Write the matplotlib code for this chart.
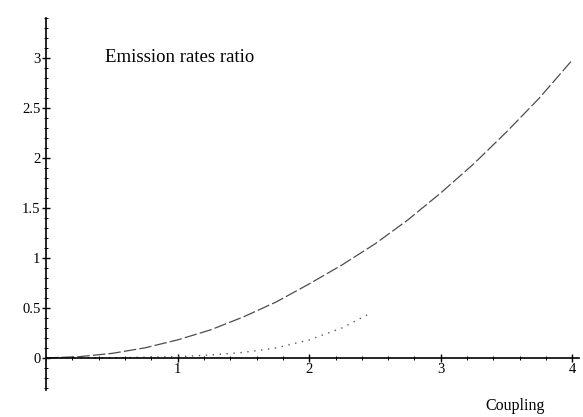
import matplotlib
matplotlib.use("Agg")
import matplotlib.pyplot as plt
from matplotlib.ticker import MultipleLocator

# values
coupling_upper = [0, 0.25, 0.5, 0.75, 1.0, 1.25, 1.5, 1.75, 2.0, 2.25, 2.5,
                  2.75, 3.0, 3.25, 3.5, 3.75, 4.0]
ratio_upper = [0, 0.012, 0.045, 0.1, 0.18, 0.28, 0.41, 0.56, 0.74, 0.93, 1.14,
               1.38, 1.65, 1.94, 2.26, 2.6, 2.98]

coupling_lower = [0, 0.5, 1.0, 1.25, 1.5, 1.75, 2.0, 2.25, 2.47]
ratio_lower = [0, 0.001, 0.012, 0.029, 0.055, 0.1, 0.18, 0.3, 0.45]

y_ticks = [0, 0.5, 1, 1.5, 2, 2.5, 3]
y_labels = ["0", "0.5", "1", "1.5", "2", "2.5", "3"]
x_ticks = [1, 2, 3, 4]
x_labels = ["1", "2", "3", "4"]

serif = "Liberation Serif"

fig = plt.figure(figsize=(5.83, 4.17), dpi=100)
ax = fig.add_axes([0.079, 0.065, 0.914, 0.892])

ax.plot(coupling_upper, ratio_upper, color="0.3", lw=0.9, dashes=(10, 2.5))
ax.plot(coupling_lower, ratio_lower, color="0.35", lw=1.0, dashes=(1, 4))

ax.set_xlim(0, 4.05)
ax.set_ylim(-0.32, 3.40)

# axes through the origin, Mathematica style
ax.spines["left"].set_position(("data", 0))
ax.spines["bottom"].set_position(("data", 0))
ax.spines["right"].set_visible(False)
ax.spines["top"].set_visible(False)
for s in ("left", "bottom"):
    ax.spines[s].set_linewidth(1.2)

ax.set_yticks(y_ticks)
ax.set_yticklabels(y_labels, fontfamily=serif, fontsize=10.5)
ax.set_xticks(x_ticks)
ax.set_xticklabels(x_labels, fontfamily=serif, fontsize=10.5)
ax.yaxis.set_minor_locator(MultipleLocator(0.1))
ax.xaxis.set_minor_locator(MultipleLocator(0.2))
ax.tick_params(which="major", direction="inout", length=6, width=1, pad=1)
ax.tick_params(which="minor", direction="inout", length=3, width=0.7)

ax.text(0.45, 3.0, "Emission rates ratio", fontfamily=serif, fontsize=13.5,
        va="center")
ax.text(3.34, -0.48, "Coupling", fontfamily=serif, fontsize=11.5,
        va="center", clip_on=False)

fig.savefig("out.png", dpi=100)
